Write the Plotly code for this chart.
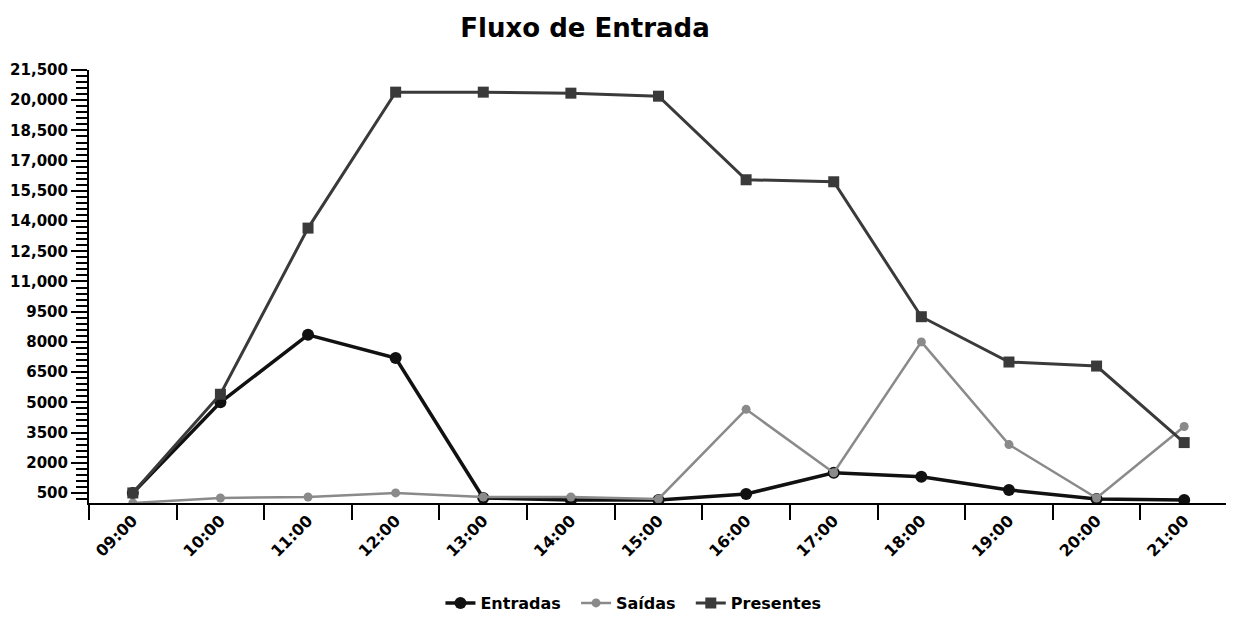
import plotly.graph_objects as go

horas = ["09:00", "10:00", "11:00", "12:00", "13:00", "14:00", "15:00",
         "16:00", "17:00", "18:00", "19:00", "20:00", "21:00"]
entradas = [500, 5000, 8350, 7200, 250, 150, 150, 450, 1500, 1300, 650, 200, 150]
saidas = [0, 250, 300, 500, 300, 300, 200, 4650, 1500, 8000, 2900, 250, 3800]
presentes = [500, 5400, 13650, 20400, 20400, 20350, 20200, 16050, 15950, 9250, 7000, 6800, 3000]

y_ticks = [500, 2000, 3500, 5000, 6500, 8000, 9500, 11000, 12500, 14000,
           15500, 17000, 18500, 20000, 21500]
y_labels = ["<b>500</b>", "<b>2000</b>", "<b>3500</b>", "<b>5000</b>", "<b>6500</b>",
            "<b>8000</b>", "<b>9500</b>", "<b>11,000</b>", "<b>12,500</b>", "<b>14,000</b>",
            "<b>15,500</b>", "<b>17,000</b>", "<b>18,500</b>", "<b>20,000</b>", "<b>21,500</b>"]
x_labels = ["<b>" + h + "</b>" for h in horas]

fig = go.Figure()
fig.add_trace(go.Scatter(x=horas, y=entradas, mode="lines+markers", name="<b>Entradas</b>  ",
                         line=dict(color="#111111", width=3.5),
                         marker=dict(symbol="circle", size=12, color="#111111")))
fig.add_trace(go.Scatter(x=horas, y=saidas, mode="lines+markers", name="<b>Saídas</b>  ",
                         line=dict(color="#8a8a8a", width=2.5),
                         marker=dict(symbol="circle", size=9, color="#8a8a8a")))
fig.add_trace(go.Scatter(x=horas, y=presentes, mode="lines+markers", name="<b>Presentes</b>",
                         line=dict(color="#3a3a3a", width=3),
                         marker=dict(symbol="square", size=11, color="#3a3a3a")))

fig.update_layout(
    width=1234, height=639,
    paper_bgcolor="white", plot_bgcolor="white",
    margin=dict(l=81, r=14, t=62, b=144, autoexpand=False),
    font=dict(family="DejaVu Sans", color="black"),
    title=dict(text="<b>Fluxo de Entrada</b>", x=0.4676, xanchor="center",
               yref="container", y=0.969, yanchor="middle",
               font=dict(size=26, family="DejaVu Sans", color="black")),
    legend=dict(orientation="h", x=0.478, xanchor="center", y=-0.231, yanchor="middle",
                font=dict(size=16, family="DejaVu Sans", color="black"),
                itemwidth=30),
    showlegend=True,
)
fig.update_xaxes(
    type="category", range=[-0.5, 12.5], tickmode="array", tickvals=horas, ticktext=x_labels,
    tickangle=-45, tickson="boundaries", ticks="outside", ticklen=15, tickwidth=2,
    tickcolor="black", showline=True, linecolor="black", linewidth=2,
    showgrid=False, zeroline=False, automargin=False,
    tickfont=dict(size=16, family="DejaVu Sans"),
)
fig.update_yaxes(
    range=[0, 21500], tickmode="array", tickvals=y_ticks, ticktext=y_labels,
    ticks="outside", ticklen=16, tickwidth=2, tickcolor="black",
    minor=dict(tick0=500, dtick=300, ticks="outside", ticklen=11, tickwidth=1.5,
               tickcolor="black", showgrid=False),
    showline=True, linecolor="black", linewidth=2, showgrid=False, zeroline=False,
    automargin=False, tickfont=dict(size=15, family="DejaVu Sans"),
)

fig.write_html("out.html")
